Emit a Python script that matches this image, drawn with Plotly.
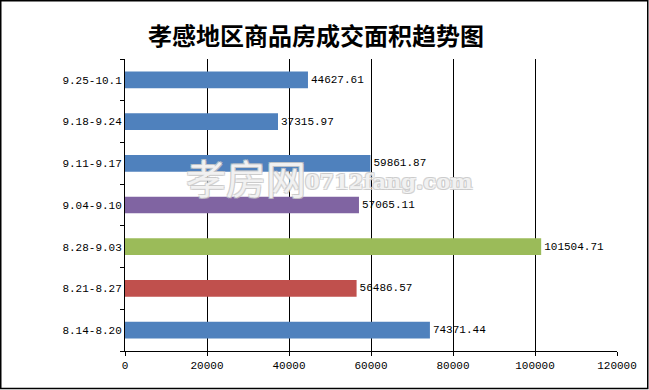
import plotly.graph_objects as go

categories = ["8.14-8.20", "8.21-8.27", "8.28-9.03", "9.04-9.10", "9.11-9.17", "9.18-9.24", "9.25-10.1"]
values = [74371.44, 56486.57, 101504.71, 57065.11, 59861.87, 37315.97, 44627.61]
bar_colors = ["#4F81BD", "#C0504D", "#9BBB59", "#8064A2", "#4F81BD", "#4F81BD", "#4F81BD"]
labels = [f"{v:.2f}" for v in values]
x_ticks = [0, 20000, 40000, 60000, 80000, 100000, 120000]
title_text = "孝感地区商品房成交面积趋势图"

W, H = 649, 390
L, R, T, B = 125, 32, 59, 39
PW, PH = W - L - R, H - T - B

def px(x):
    return (x - L) / PW

def py(y):
    return (H - B - y) / PH

mono = "Liberation Mono, DejaVu Sans Mono, monospace"
outline = "-1px -1px 0 #c8c8c8, 1px -1px 0 #c8c8c8, -1px 1px 0 #c8c8c8, 1px 1px 0 #c8c8c8"

fig = go.Figure(go.Bar(
    y=categories, x=values, orientation="h",
    marker=dict(color=bar_colors, line=dict(width=0)),
    text=labels, textposition="outside", cliponaxis=False,
    textfont=dict(family=mono, size=11, color="black"),
    width=0.4,
))

fig.update_layout(
    width=W, height=H,
    margin=dict(l=L, r=R, t=T, b=B),
    paper_bgcolor="white", plot_bgcolor="white",
    showlegend=False,
    xaxis=dict(range=[0, 120000], tickvals=x_ticks, ticktext=[str(v) for v in x_ticks],
               showgrid=True, gridcolor="black", gridwidth=1,
               showline=True, linecolor="black", linewidth=1,
               ticks="outside", ticklen=4, tickcolor="black",
               zeroline=False, fixedrange=True, automargin=False,
               tickfont=dict(family=mono, size=11, color="black")),
    yaxis=dict(type="category", categoryorder="array", categoryarray=categories,
               showgrid=False, showline=True, linecolor="black", linewidth=1,
               ticks="outside", ticklen=4, tickcolor="black", tickson="boundaries",
               automargin=False, fixedrange=True,
               tickfont=dict(family=mono, size=11, color="black"),
               range=[-0.5, 6.5]),
    annotations=[
        dict(text=title_text, xref="paper", yref="paper", x=px(316), y=py(35),
             xanchor="center", yanchor="middle", showarrow=False,
             font=dict(family="Noto Sans CJK SC", size=24, color="black", weight="bold")),
        dict(text="孝房网", xref="paper", yref="paper", x=px(246), y=py(177),
             xanchor="center", yanchor="middle", showarrow=False,
             font=dict(family="Noto Sans CJK SC", size=40, color="rgba(255,255,255,0.75)",
                       shadow=outline)),
        dict(text="0712fang.com", xref="paper", yref="paper", x=px(388), y=py(181),
             xanchor="center", yanchor="middle", showarrow=False,
             font=dict(family="DejaVu Serif", size=21, color="rgba(255,255,255,0.75)", weight="bold",
                       shadow=outline)),
    ],
    shapes=[
        dict(type="rect", xref="paper", yref="paper",
             x0=px(0.75), x1=px(647.75), y0=py(388.5), y1=py(0.75),
             line=dict(color="black", width=1.5), fillcolor="rgba(0,0,0,0)", layer="above"),
    ],
)

fig.write_html("out.html", config={"displayModeBar": False},
               post_script="document.body.style.margin='0';document.body.style.overflow='hidden';")
